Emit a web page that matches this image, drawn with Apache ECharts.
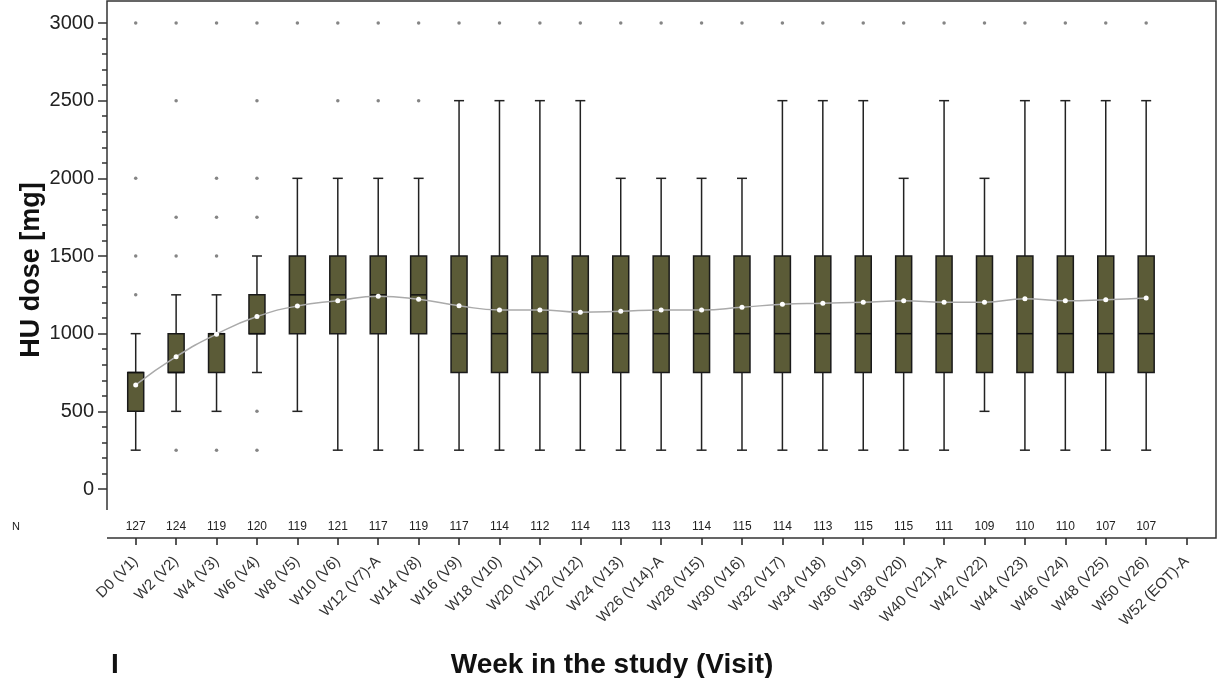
<!DOCTYPE html>
<html>
<head>
<meta charset="utf-8">
<script src="https://cdn.jsdelivr.net/npm/echarts@6/dist/echarts.min.js"></script>
<style>html,body{margin:0;padding:0;background:#fff}#c{width:1218px;height:678px}</style>
</head>
<body>
<div id="c"></div>
<script>
const categories = ['D0 (V1)','W2 (V2)','W4 (V3)','W6 (V4)','W8 (V5)','W10 (V6)','W12 (V7)-A','W14 (V8)','W16 (V9)','W18 (V10)','W20 (V11)','W22 (V12)','W24 (V13)','W26 (V14)-A','W28 (V15)','W30 (V16)','W32 (V17)','W34 (V18)','W36 (V19)','W38 (V20)','W40 (V21)-A','W42 (V22)','W44 (V23)','W46 (V24)','W48 (V25)','W50 (V26)','W52 (EOT)-A'];
const nCounts = [127,124,119,120,119,121,117,119,117,114,112,114,113,113,114,115,114,113,115,115,111,109,110,110,107,107];
const whiskerLow = [250,500,500,750,500,250,250,250,250,250,250,250,250,250,250,250,250,250,250,250,250,500,250,250,250,250];
const q1 = [500,750,750,1000,1000,1000,1000,1000,750,750,750,750,750,750,750,750,750,750,750,750,750,750,750,750,750,750];
const median = [750,750,1000,1000,1250,1250,1250,1250,1000,1000,1000,1000,1000,1000,1000,1000,1000,1000,1000,1000,1000,1000,1000,1000,1000,1000];
const q3 = [750,1000,1000,1250,1500,1500,1500,1500,1500,1500,1500,1500,1500,1500,1500,1500,1500,1500,1500,1500,1500,1500,1500,1500,1500,1500];
const whiskerHigh = [1000,1250,1250,1500,2000,2000,2000,2000,2500,2500,2500,2500,2000,2000,2000,2000,2500,2500,2500,2000,2500,2000,2500,2500,2500,2500];
const means = [670,852,997,1110,1178,1212,1241,1221,1180,1153,1153,1138,1144,1153,1153,1170,1189,1196,1202,1212,1202,1202,1225,1212,1219,1230];
const outliers = [
  [1250,1500,2000,3000],
  [250,1500,1750,2500,3000],
  [250,1500,1750,2000,3000],
  [250,500,1750,2000,2500,3000],
  [3000],
  [2500,3000],
  [2500,3000],
  [2500,3000],
  [3000],[3000],[3000],[3000],[3000],[3000],[3000],[3000],[3000],[3000],[3000],[3000],[3000],[3000],[3000],[3000],[3000],[3000]
];
const yTicks = {min: 0, max: 3000, interval: 500};

const boxData = whiskerLow.map((v, i) => [i, v, q1[i], median[i], q3[i], whiskerHigh[i]]);
const outlierData = [];
outliers.forEach((arr, i) => arr.forEach(v => outlierData.push([i, v])));

const FONT = '"Liberation Sans", Arial, sans-serif';
const chart = echarts.init(document.getElementById('c'), null, {renderer: 'canvas'});

const option = {
  animation: false,
  backgroundColor: '#fff',
  grid: [
    {left: 115.5, right: 11.2, top: 1, bottom: 167, show: false},
    {left: 107, right: 2, top: 23, bottom: 189, show: false},
    {left: 115.5, right: 11.2, top: 1, bottom: 140, show: false}
  ],
  xAxis: [
    {gridIndex: 0, type: 'category', data: categories, boundaryGap: true,
     axisLine: {show: false}, axisTick: {show: false}, splitLine: {show: false},
     axisLabel: {interval: 0, margin: 10, fontSize: 12, color: '#222', fontFamily: FONT,
       formatter: (v, i) => (nCounts[i] !== undefined ? String(nCounts[i]) : '')}},
    {gridIndex: 1, type: 'value', show: false},
    {gridIndex: 2, type: 'category', data: categories, boundaryGap: true,
     axisLine: {show: false},
     axisTick: {show: true, alignWithLabel: true, interval: 0, length: 7, lineStyle: {color: '#222', width: 1.5}},
     axisLabel: {interval: 0, rotate: 45, margin: 21, fontSize: 15, color: '#333', fontFamily: FONT},
     splitLine: {show: false}}
  ],
  yAxis: [
    {gridIndex: 0, type: 'value', min: -141.6, max: 3141.6, show: false},
    {gridIndex: 1, type: 'value', min: yTicks.min, max: yTicks.max, interval: yTicks.interval,
     axisLine: {show: false},
     axisTick: {show: true, length: 9, lineStyle: {color: '#333', width: 1.5}},
     minorTick: {show: true, splitNumber: 5, length: 5, lineStyle: {color: '#333', width: 1.5}},
     axisLabel: {fontSize: 20, color: '#222', margin: 13, fontFamily: FONT, formatter: v => String(v)},
     splitLine: {show: false}, minorSplitLine: {show: false}},
    {gridIndex: 2, type: 'value', show: false}
  ],
  series: [
    {
      type: 'custom', xAxisIndex: 0, yAxisIndex: 0, data: boxData,
      encode: {x: 0, y: [1, 2, 3, 4, 5]}, z: 2,
      renderItem: function (params, api) {
        const x = api.value(0);
        const lo = api.coord([x, api.value(1)]);
        const b1 = api.coord([x, api.value(2)]);
        const md = api.coord([x, api.value(3)]);
        const b3 = api.coord([x, api.value(4)]);
        const hi = api.coord([x, api.value(5)]);
        const cx = lo[0];
        const bw = 16, cw = 10;
        const ls = {stroke: '#222', lineWidth: 1.5};
        return {type: 'group', children: [
          {type: 'line', shape: {x1: cx, y1: hi[1], x2: cx, y2: b3[1]}, style: ls},
          {type: 'line', shape: {x1: cx, y1: b1[1], x2: cx, y2: lo[1]}, style: ls},
          {type: 'line', shape: {x1: cx - cw / 2, y1: hi[1], x2: cx + cw / 2, y2: hi[1]}, style: ls},
          {type: 'line', shape: {x1: cx - cw / 2, y1: lo[1], x2: cx + cw / 2, y2: lo[1]}, style: ls},
          {type: 'rect', shape: {x: cx - bw / 2, y: b3[1], width: bw, height: b1[1] - b3[1]},
           style: {fill: '#5b5b37', stroke: '#1a1a1a', lineWidth: 1.5}},
          {type: 'line', shape: {x1: cx - bw / 2, y1: md[1], x2: cx + bw / 2, y2: md[1]},
           style: {stroke: '#111', lineWidth: 1.5}}
        ]};
      }
    },
    {
      type: 'scatter', xAxisIndex: 0, yAxisIndex: 0, data: outlierData,
      symbol: 'circle', symbolSize: 3.5, itemStyle: {color: '#666'}, z: 3
    },
    {
      type: 'line', xAxisIndex: 0, yAxisIndex: 0, data: means, smooth: true,
      symbol: 'circle', symbolSize: 5, showSymbol: true,
      itemStyle: {color: '#fff', borderWidth: 0},
      lineStyle: {color: '#aaa', width: 1.5}, z: 4
    }
  ],
  graphic: [
    {type: 'polyline', shape: {points: [[107, 510], [107, 1], [1216, 1], [1216, 538], [107, 538]]},
     style: {stroke: '#333', lineWidth: 1.5, fill: null}, z: 10},
    {type: 'text', x: 16, y: 527, style: {text: 'N', fill: '#222', font: '11px ' + FONT, align: 'center', verticalAlign: 'middle'}},
    {type: 'text', x: 32, y: 270, rotation: Math.PI / 2,
     style: {text: 'HU dose [mg]', font: 'bold 27px ' + FONT, fill: '#111', align: 'center', verticalAlign: 'middle'}},
    {type: 'text', x: 612, y: 665,
     style: {text: 'Week in the study (Visit)', font: 'bold 28px ' + FONT, fill: '#111', align: 'center', verticalAlign: 'middle'}},
    {type: 'text', x: 115, y: 665,
     style: {text: 'I', font: 'bold 28px ' + FONT, fill: '#111', align: 'center', verticalAlign: 'middle'}}
  ]
};
chart.setOption(option);
</script>
</body>
</html>
